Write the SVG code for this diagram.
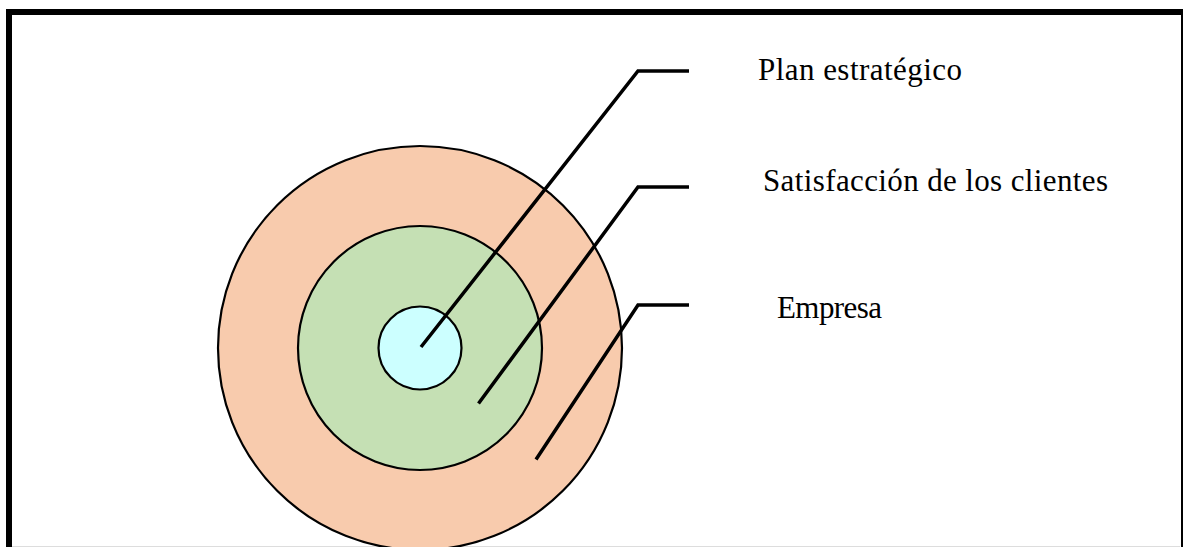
<svg xmlns="http://www.w3.org/2000/svg" width="1183" height="547" viewBox="0 0 1183 547">
<style>
.ring{stroke:#000;stroke-width:2.2}
.lbl{font-family:"Liberation Serif","Times New Roman",serif;font-size:31px;fill:#000}
.conn{fill:none;stroke:#000;stroke-width:3.5}
</style>
<rect x="0" y="0" width="1183" height="547" fill="#fff"/>
<line x1="12" y1="546.5" x2="1180" y2="546.5" stroke="#ddd" stroke-width="1"/>
<rect x="9" y="12" width="1175" height="560" fill="none" stroke="#000" stroke-width="6"/>
<g id="empresa">
<circle class="ring" cx="420" cy="348" r="202" fill="#F8CBAD"/>
</g>
<g id="satisfaccion">
<circle class="ring" cx="420" cy="348" r="122" fill="#C5E0B4"/>
</g>
<g id="plan">
<circle class="ring" cx="420" cy="348" r="41.5" fill="#CCFFFF"/>
</g>
<g id="connectors">
<polyline class="conn" points="421,347 638,71 689,71"/>
<polyline class="conn" points="478.5,403.5 638,187 689,187"/>
<polyline class="conn" points="536,459.5 638,305 689,305"/>
</g>
<g id="labels">
<text class="lbl" x="758" y="80" textLength="204" lengthAdjust="spacing">Plan estratégico</text>
<text class="lbl" x="763" y="191" textLength="345" lengthAdjust="spacing">Satisfacción de los clientes</text>
<text class="lbl" x="777" y="318" textLength="105" lengthAdjust="spacing">Empresa</text>
</g>
</svg>
